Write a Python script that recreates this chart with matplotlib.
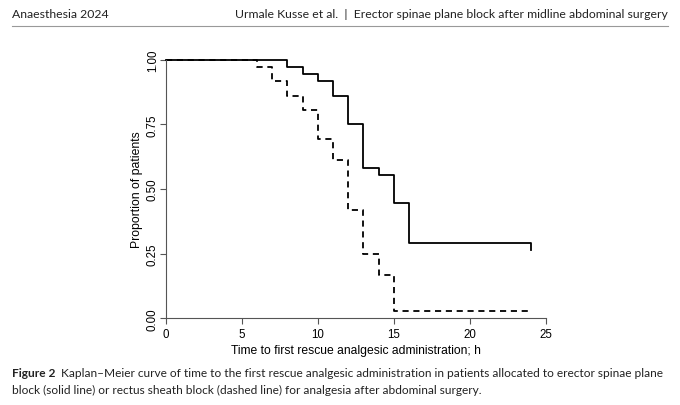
import matplotlib
matplotlib.use('Agg')
import matplotlib.pyplot as plt
from matplotlib.lines import Line2D

# Kaplan-Meier steps
esp_time = [0, 8, 9, 10, 11, 12, 13, 14, 15, 16, 24]
esp_surv = [1.0, 0.972, 0.944, 0.917, 0.861, 0.750, 0.583, 0.556, 0.444, 0.292, 0.265]

rsb_time = [0, 6, 7, 8, 9, 10, 11, 12, 13, 14, 15, 24]
rsb_surv = [1.0, 0.972, 0.917, 0.861, 0.806, 0.694, 0.611, 0.417, 0.250, 0.167, 0.028, 0.028]

xticks = [0, 5, 10, 15, 20, 25]
yticks = [0.0, 0.25, 0.5, 0.75, 1.0]
ytick_labels = ['0.00', '0.25', '0.50', '0.75', '1.00']

header_left = 'Anaesthesia 2024'
header_right = 'Urmale Kusse et al.  |  Erector spinae plane block after midline abdominal surgery'
cap_bold = 'Figure 2'
cap_line1 = ('Kaplan\u2013Meier curve of time to the first rescue analgesic administration '
             'in patients allocated to erector spinae plane')
cap_line2 = ('block (solid line) or rectus sheath block (dashed line) for analgesia '
             'after abdominal surgery.')

W, H = 680, 406
fig = plt.figure(figsize=(6.8, 4.06), dpi=100)
fig.patch.set_facecolor('white')

ax = fig.add_axes([165.7 / W, 86.7 / H, 380 / W, 258.6 / H])
ax.step(esp_time, esp_surv, where='post', color='black', lw=1.3, clip_on=False)
ax.step(rsb_time, rsb_surv, where='post', color='black', lw=1.3,
        dashes=(3.4, 2.6), clip_on=False)

ax.set_xlim(0, 25)
ax.set_ylim(0, 1)
ax.spines['top'].set_visible(False)
ax.spines['right'].set_visible(False)
ax.spines['left'].set_bounds(0, 1)
ax.spines['bottom'].set_bounds(0, 25)
for s in ['left', 'bottom']:
    ax.spines[s].set_color('#555555')
    ax.spines[s].set_linewidth(0.8)

ax.set_xticks(xticks)
ax.set_yticks(yticks)
ax.set_yticklabels(ytick_labels, rotation=90, va='center')
ax.tick_params(axis='both', direction='out', length=4, width=0.8, color='#555555',
               labelsize=8.3)
ax.tick_params(axis='x', pad=3)
ax.tick_params(axis='y', pad=1)
for lab in ax.get_xticklabels() + ax.get_yticklabels():
    lab.set_family('Liberation Sans')

ax.set_xlabel('Time to first rescue analgesic administration; h',
              family='Liberation Sans', fontsize=8.7, labelpad=3)
ax.set_ylabel('Proportion of patients', family='Liberation Sans', fontsize=8.8, labelpad=3)

# page header
hfont = dict(family='Lato', fontsize=8.8, color='#222222')
fig.text(12 / W, 1 - 14 / H, header_left, ha='left', va='center', **hfont)
fig.text(668 / W, 1 - 14 / H, header_right, ha='right', va='center', **hfont)
fig.add_artist(Line2D([12 / W, 668 / W], [1 - 27 / H, 1 - 27 / H],
                      color='#999999', lw=0.8, transform=fig.transFigure))

# caption
cfont = dict(family='Lato', fontsize=8.55, color='#222222')
t_bold = fig.text(12 / W, 1 - 374 / H, cap_bold, ha='left', va='center',
                  fontweight='bold', **cfont)
fig.canvas.draw()
bb = t_bold.get_window_extent()
fig.text((bb.x1 + 6) / W, 1 - 374 / H, cap_line1, ha='left', va='center', **cfont)
fig.text(12 / W, 1 - 390.7 / H, cap_line2, ha='left', va='center', **cfont)

fig.savefig('out.png', dpi=100)
